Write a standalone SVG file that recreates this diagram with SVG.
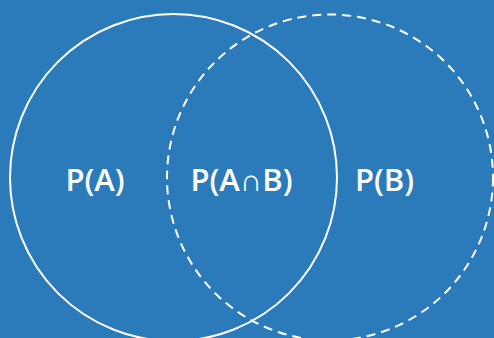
<svg xmlns="http://www.w3.org/2000/svg" width="494" height="338" viewBox="0 0 494 338">
<style>
.bg{fill:#2b7bba}
.ring{fill:none;stroke:#ffffff;stroke-width:2}
.dash{stroke-dasharray:9 6}
.lbl{fill:#ffffff;font-family:"Open Sans","Noto Sans",sans-serif;font-size:31px;font-weight:600;text-anchor:middle}
</style>
<rect class="bg" x="0" y="0" width="494" height="338"/>
<g id="setA">
<circle class="ring" cx="173.5" cy="177.5" r="163.5"/>
<text class="lbl" x="95" y="191">P(A)</text>
</g>
<g id="setB">
<circle class="ring dash" cx="330" cy="177.5" r="163"/>
<text class="lbl" x="384.5" y="191">P(B)</text>
</g>
<g id="intersection">
<text class="lbl" x="241.5" y="191">P(A∩B)</text>
</g>
<g id="connectors"/>
</svg>
